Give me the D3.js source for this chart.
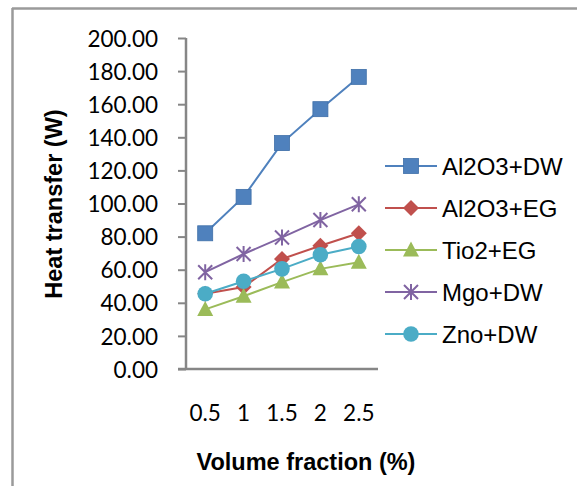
<!DOCTYPE html>
<html><head><meta charset="utf-8">
<script src="https://cdn.jsdelivr.net/npm/d3@7"></script>
<style>body{margin:0;background:#fff}svg{display:block}</style>
</head><body>
<script>
const categories = ["0.5", "1", "1.5", "2", "2.5"];
const seriesNames = ["Al2O3+DW", "Al2O3+EG", "Tio2+EG", "Mgo+DW", "Zno+DW"];
const al2o3DW = [82, 104, 136.5, 157, 176.5];
const al2o3EG = [45.5, 49.5, 66.5, 74.5, 82];
const tio2EG = [36, 44, 52.5, 60.5, 64.5];
const mgoDW = [58.5, 69.5, 79.5, 90, 99.5];
const znoDW = [45.5, 53, 60.5, 69, 74];
const yTicks = [0, 20, 40, 60, 80, 100, 120, 140, 160, 180, 200];
const colors = ["#4F81BD", "#C0504D", "#9BBB59", "#8064A2", "#4BACC6"];
const markers = ["square", "diamond", "triangle", "star", "circle"];
const allSeries = [al2o3DW, al2o3EG, tio2EG, mgoDW, znoDW];

const W = 577, H = 486;
const svg = d3.select("body").append("svg").attr("width", W).attr("height", H);

// outer frame
svg.append("line").attr("x1", 12.5).attr("x2", 12.5).attr("y1", 8).attr("y2", H).attr("stroke", "#9a9a9a").attr("stroke-width", 2.5);
svg.append("line").attr("x1", 12).attr("x2", W).attr("y1", 8.5).attr("y2", 8.5).attr("stroke", "#9a9a9a").attr("stroke-width", 2.5);

const x = d3.scaleBand().domain(categories).range([186, 378]);
const y = d3.scaleLinear().domain([0, 200]).range([369, 38]);

// y axis
const yAxis = svg.append("g").attr("transform", "translate(186,0)")
  .call(d3.axisLeft(y).tickValues(yTicks).tickSize(8).tickPadding(20).tickFormat(d => d3.format(".2f")(d)));
yAxis.select(".domain").attr("stroke", "#868686").attr("stroke-width", 2.5).attr("d", "M0,38V369");
yAxis.selectAll(".tick line").attr("stroke", "#868686").attr("stroke-width", 2);
yAxis.selectAll("text").attr("font-family", "Lato, 'Open Sans', sans-serif").attr("font-size", 22.5).attr("fill", "#000").attr("dy", "0.36em");

// x axis
const xAxis = svg.append("g").attr("transform", "translate(0,369)")
  .call(d3.axisBottom(x).tickSize(0).tickPadding(36));
xAxis.select(".domain").attr("stroke", "#868686").attr("stroke-width", 2.5).attr("d", "M178,0H378");
xAxis.selectAll("text").attr("font-family", "Lato, 'Open Sans', sans-serif").attr("font-size", 22.5).attr("fill", "#000");

// titles
svg.append("text").attr("x", 306).attr("y", 470).attr("text-anchor", "middle")
  .attr("font-family", "'Liberation Sans', Arial, sans-serif").attr("font-weight", "bold").attr("font-size", 23.5)
  .text("Volume fraction (%)");
svg.append("text").attr("transform", "translate(62,204) rotate(-90)").attr("text-anchor", "middle")
  .attr("font-family", "'Liberation Sans', Arial, sans-serif").attr("font-weight", "bold").attr("font-size", 23.5)
  .text("Heat transfer (W)");

function drawMarker(g, type, color) {
  if (type === "square") g.append("rect").attr("x", -7.5).attr("y", -7.5).attr("width", 15).attr("height", 15).attr("fill", color).attr("stroke", "#3f6fa8").attr("stroke-width", 0.8);
  else if (type === "diamond") g.append("path").attr("d", "M0,-8L8,0L0,8L-8,0Z").attr("fill", color);
  else if (type === "triangle") g.append("path").attr("d", "M0,-8.5L8,6.5L-8,6.5Z").attr("fill", color);
  else if (type === "circle") g.append("circle").attr("r", 7.8).attr("fill", color);
  else if (type === "star") {
    const s = 7;
    g.append("path").attr("d", `M${-s},${-s}L${s},${s}M${-s},${s}L${s},${-s}M0,${-s - 1}L0,${s + 1}`)
      .attr("stroke", color).attr("stroke-width", 2).attr("fill", "none");
  }
}

const line = d3.line().x((d, i) => x(categories[i]) + x.bandwidth() / 2).y(d => y(d));
allSeries.forEach((vals, si) => {
  const g = svg.append("g");
  g.append("path").datum(vals).attr("d", line).attr("fill", "none").attr("stroke", colors[si]).attr("stroke-width", 2);
  vals.forEach((v, i) => {
    const m = g.append("g").attr("transform", `translate(${x(categories[i]) + x.bandwidth() / 2},${y(v)})`);
    drawMarker(m, markers[si], colors[si]);
  });
});

// legend
const legY = d3.scalePoint().domain(seriesNames).range([166, 334]);
seriesNames.forEach((name, si) => {
  const cy = legY(name);
  const g = svg.append("g").attr("transform", `translate(0,${cy})`);
  g.append("line").attr("x1", 385).attr("x2", 437).attr("y1", 0).attr("y2", 0).attr("stroke", colors[si]).attr("stroke-width", 2);
  const m = g.append("g").attr("transform", "translate(411,0)");
  drawMarker(m, markers[si], colors[si]);
  g.append("text").attr("x", 442).attr("y", 8.5).attr("font-family", "'Liberation Sans', Arial, sans-serif").attr("font-size", 24).attr("fill", "#000").text(name);
});
</script>
</body></html>
